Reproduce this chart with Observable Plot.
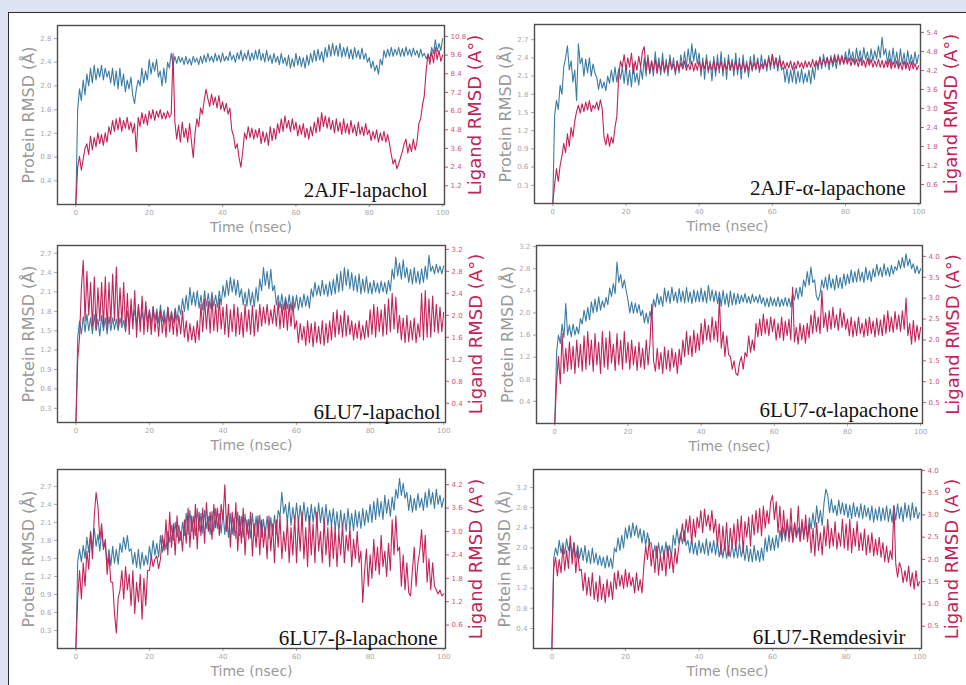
<!DOCTYPE html>
<html><head><meta charset="utf-8">
<script src="https://cdn.jsdelivr.net/npm/d3@7"></script>
<script src="https://cdn.jsdelivr.net/npm/@observablehq/plot@0.6"></script>
<style>
html,body{margin:0;padding:0;background:#dde3f0;}
#root{position:relative;width:966px;height:685px;overflow:hidden;background:#dde3f0;}
#sheet{position:absolute;left:8px;top:12px;width:960px;height:680px;background:#fff;border-left:1.5px solid #2b2b2b;border-top:1.5px solid #2b2b2b;}
</style></head>
<body><div id="root"><div id="sheet"></div></div>
<script>
const time = d3.range(0, 100.5, 0.5);
const xTicks = [0, 20, 40, 60, 80, 100];
const titles = ["2AJF-lapachol", "2AJF-α-lapachone", "6LU7-lapachol", "6LU7-α-lapachone", "6LU7-β-lapachone", "6LU7-Remdesivir"];

const proteinTicks1 = [0.4, 0.8, 1.2, 1.6, 2.0, 2.4, 2.8];
const ligandTicks1 = [1.2, 2.4, 3.6, 4.8, 6.0, 7.2, 8.4, 9.6, 10.8];
const proteinTicks2 = [0.3, 0.6, 0.9, 1.2, 1.5, 1.8, 2.1, 2.4, 2.7];
const ligandTicks2 = [0.6, 1.2, 1.8, 2.4, 3.0, 3.6, 4.2, 4.8, 5.4];
const proteinTicks3 = [0.3, 0.6, 0.9, 1.2, 1.5, 1.8, 2.1, 2.4, 2.7];
const ligandTicks3 = [0.4, 0.8, 1.2, 1.6, 2.0, 2.4, 2.8, 3.2];
const proteinTicks4 = [0.4, 0.8, 1.2, 1.6, 2.0, 2.4, 2.8, 3.2];
const ligandTicks4 = [0.5, 1.0, 1.5, 2.0, 2.5, 3.0, 3.5, 4.0];
const proteinTicks5 = [0.3, 0.6, 0.9, 1.2, 1.5, 1.8, 2.1, 2.4, 2.7];
const ligandTicks5 = [0.6, 1.2, 1.8, 2.4, 3.0, 3.6, 4.2];
const proteinTicks6 = [0.4, 0.8, 1.2, 1.6, 2.0, 2.4, 2.8, 3.2];
const ligandTicks6 = [0.5, 1.0, 1.5, 2.0, 2.5, 3.0, 3.5, 4.0];

const protein1 = [
0,1.6,1.95,1.75,2.1,1.85,2.2,2.0,2.3,2.05,2.35,2.1,2.3,2.15,2.35,2.1,2.3,2.15,2.25,2.05,
2.3,2.0,2.25,1.95,2.3,2.0,2.2,1.9,2.1,1.95,2.15,1.85,1.7,1.95,2.1,2.0,2.3,2.05,2.25,2.1,
2.45,2.2,2.4,2.25,2.45,2.15,2.25,2.0,2.3,2.05,2.4,2.3,2.55,2.35,2.5,2.38,2.5,2.4,2.48,2.36,
2.5,2.37,2.46,2.35,2.5,2.4,2.47,2.36,2.5,2.38,2.52,2.4,2.55,2.42,2.5,2.4,2.55,2.42,2.52,2.4,
2.56,2.42,2.5,2.43,2.58,2.44,2.52,2.4,2.56,2.45,2.6,2.42,2.55,2.45,2.6,2.42,2.56,2.44,2.6,2.45,
2.62,2.43,2.55,2.4,2.6,2.42,2.52,2.38,2.55,2.4,2.5,2.36,2.55,2.38,2.48,2.34,2.52,2.3,2.46,2.32,
2.55,2.35,2.5,2.33,2.48,2.3,2.52,2.35,2.55,2.4,2.6,2.42,2.62,2.44,2.58,2.4,2.65,2.48,2.7,2.5,
2.72,2.52,2.68,2.5,2.72,2.48,2.65,2.5,2.66,2.46,2.62,2.45,2.65,2.48,2.6,2.45,2.64,2.45,2.55,2.4,
2.48,2.3,2.42,2.25,2.35,2.2,2.45,2.35,2.6,2.48,2.62,2.5,2.65,2.5,2.62,2.52,2.65,2.5,2.63,2.5,
2.66,2.52,2.62,2.5,2.64,2.52,2.6,2.48,2.62,2.5,2.55,2.46,2.52,2.45,2.65,2.55,2.78,2.58,2.72,2.6,
2.8];
const ligand1 = [
0,2.4,3.1,2.2,2.9,3.6,3.9,3.2,4.4,3.5,4.3,3.7,4.6,3.9,4.5,3.8,4.6,4.0,5.0,4.5,
5.4,4.7,5.5,4.8,5.6,4.7,5.4,4.9,5.6,4.8,5.3,4.6,5.2,3.4,5.6,5.0,5.9,5.2,5.8,5.1,
6.0,5.5,6.1,5.4,6.0,5.6,6.1,5.5,5.9,5.5,6.0,5.6,5.8,9.7,5.3,4.2,5.1,4.0,5.3,4.3,
4.9,4.0,5.2,4.1,3.0,4.6,5.5,5.0,6.2,5.8,6.7,7.4,6.8,6.3,7.1,6.4,6.9,6.2,7.0,6.1,
6.6,6.0,6.5,5.8,6.2,4.8,4.4,3.6,3.9,3.0,2.4,3.4,4.6,4.2,5.0,4.3,4.9,4.2,4.8,4.3,
4.9,3.9,4.7,4.0,4.6,3.8,5.0,4.1,4.9,4.2,5.2,4.6,5.5,4.7,5.7,4.9,5.4,4.7,5.5,4.8,
5.3,4.4,5.1,4.5,5.2,4.3,4.9,4.2,5.0,4.4,5.3,4.6,5.6,4.7,5.9,5.0,5.7,4.9,5.6,4.8,
5.4,4.6,5.5,4.7,5.3,4.5,5.5,4.6,5.2,4.5,5.4,4.6,5.1,4.4,5.3,4.5,5.0,4.4,5.2,4.5,
4.8,4.1,4.7,4.2,4.8,4.0,4.6,4.1,4.7,4.0,4.5,3.9,3.2,2.6,2.9,2.3,2.6,3.0,3.4,3.9,
4.2,3.3,3.9,3.4,4.2,3.5,4.0,5.2,5.5,6.4,7.0,8.6,9.7,9.0,9.8,9.1,10.1,9.3,9.9,9.2,
9.6];

const protein2 = [
0,1.45,1.7,1.55,1.95,1.8,2.25,2.4,2.6,2.2,2.35,2.0,2.2,1.7,2.63,2.3,2.4,2.1,2.38,2.15,
2.4,2.1,2.3,2.15,2.08,1.88,2.05,1.9,2.0,1.86,2.1,1.98,2.2,2.0,2.25,2.0,2.22,2.05,2.25,1.98,
2.28,1.95,2.2,1.92,2.3,2.0,2.15,1.95,2.25,2.05,2.4,2.1,2.45,2.15,2.35,2.1,2.5,2.2,2.4,2.12,
2.48,2.15,2.38,2.1,2.45,2.2,2.4,2.12,2.35,2.15,2.45,2.22,2.5,2.25,2.55,2.3,2.63,2.35,2.55,2.3,
2.48,2.1,2.4,2.05,2.45,2.15,2.35,2.02,2.42,2.1,2.45,2.15,2.5,2.1,2.4,2.05,2.45,2.2,2.38,2.1,
2.48,2.12,2.4,2.05,2.45,2.15,2.35,2.08,2.42,2.18,2.46,2.2,2.4,2.16,2.45,2.22,2.38,2.18,2.44,2.2,
2.46,2.22,2.4,2.18,2.44,2.2,2.25,2.0,2.22,1.98,2.2,2.0,2.25,1.97,2.18,2.0,2.22,1.98,2.15,2.0,
2.2,1.97,2.25,2.05,2.35,2.2,2.42,2.22,2.46,2.25,2.4,2.2,2.44,2.25,2.4,2.22,2.46,2.28,2.42,2.3,
2.5,2.32,2.55,2.35,2.5,2.3,2.56,2.35,2.52,2.32,2.57,2.38,2.5,2.3,2.55,2.35,2.52,2.38,2.6,2.4,
2.74,2.45,2.55,2.3,2.52,2.28,2.56,2.3,2.5,2.26,2.55,2.3,2.48,2.25,2.52,2.3,2.45,2.28,2.5,2.3,
2.45];
const ligand2 = [
0,0.6,1.1,0.7,1.2,1.5,1.9,1.6,2.2,1.8,2.4,2.1,2.6,2.9,3.1,2.85,3.15,2.9,3.2,2.95,
3.25,2.9,3.1,3.0,3.2,2.95,3.27,3.0,2.1,1.85,2.2,1.8,2.1,1.9,2.4,2.75,4.0,4.5,4.3,4.7,
4.2,4.6,4.3,4.75,4.1,4.5,4.2,4.65,4.3,4.8,4.95,4.2,4.6,4.1,4.5,4.2,4.55,4.1,4.45,4.2,
4.5,4.15,4.4,4.2,4.55,4.25,4.4,4.15,4.5,4.2,4.45,4.25,4.5,4.2,4.4,4.22,4.5,4.18,4.42,4.2,
4.5,4.2,4.45,4.25,4.55,4.2,4.4,4.22,4.5,4.18,4.45,4.25,4.5,4.2,4.42,4.24,4.52,4.2,4.45,4.22,
4.5,4.2,4.42,4.22,4.48,4.18,4.4,4.2,4.5,4.22,4.45,4.25,4.5,4.2,4.4,4.25,4.5,4.3,4.6,4.35,
4.7,4.35,4.6,4.3,4.55,4.3,4.5,4.25,4.45,4.28,4.5,4.22,4.46,4.25,4.5,4.3,4.45,4.26,4.5,4.3,
4.48,4.3,4.55,4.32,4.5,4.35,4.6,4.35,4.55,4.4,4.62,4.38,4.6,4.42,4.7,4.45,4.65,4.42,4.68,4.4,
4.62,4.4,4.6,4.35,4.58,4.38,4.55,4.32,4.6,4.35,4.52,4.3,4.58,4.35,4.55,4.3,4.5,4.32,4.55,4.3,
4.52,4.28,4.5,4.3,4.55,4.25,4.48,4.28,4.5,4.25,4.45,4.22,4.5,4.25,4.45,4.2,4.48,4.25,4.42,4.22,
4.35];

const protein3 = [
0,1.4,1.65,1.45,1.72,1.48,1.76,1.5,1.7,1.45,1.75,1.5,1.68,1.42,1.74,1.5,1.7,1.45,1.72,1.5,
1.7,1.52,1.68,1.5,1.7,1.55,1.66,1.5,1.8,1.62,1.86,1.65,1.82,1.6,1.87,1.65,1.8,1.62,1.88,1.65,
1.82,1.6,1.88,1.66,1.84,1.62,1.9,1.65,1.82,1.6,1.86,1.64,1.8,1.62,1.85,1.66,1.9,1.75,2.0,1.8,
2.05,1.82,2.17,1.9,2.1,1.88,2.12,1.85,2.05,1.82,2.12,1.88,2.08,1.84,2.1,1.88,2.05,1.86,2.12,1.9,
2.2,2.02,2.28,2.05,2.33,2.1,2.3,2.05,2.28,2.02,2.15,1.9,2.1,1.88,2.15,1.9,2.1,1.87,2.17,1.95,
2.3,2.12,2.48,2.2,2.42,2.15,2.45,2.12,2.2,1.9,2.05,1.85,2.07,1.82,2.02,1.84,2.06,1.82,2.04,1.85,
2.05,1.82,2.02,1.86,2.07,1.88,2.04,1.85,2.15,2.02,2.25,2.05,2.2,2.04,2.28,2.06,2.22,2.03,2.26,2.05,
2.3,2.07,2.38,2.1,2.42,2.12,2.48,2.2,2.45,2.15,2.4,2.12,2.35,2.1,2.38,2.07,2.3,2.1,2.34,2.08,
2.25,2.07,2.28,2.1,2.24,2.08,2.27,2.1,2.25,2.07,2.28,2.12,2.45,2.3,2.64,2.35,2.55,2.3,2.6,2.32,
2.48,2.25,2.45,2.22,2.48,2.24,2.42,2.22,2.46,2.25,2.5,2.3,2.67,2.42,2.5,2.38,2.53,2.4,2.5,2.38,
2.5];
const ligand3 = [
0,1.2,1.6,2.5,3.0,1.9,2.8,2.0,2.6,1.8,2.7,1.75,2.5,1.9,2.6,1.8,2.7,1.75,2.6,1.85,
2.75,1.9,2.88,1.8,2.5,1.85,2.6,1.7,2.4,1.65,2.3,1.75,2.45,1.6,2.2,1.7,2.35,1.65,2.25,1.7,
2.1,1.65,2.15,1.7,2.05,1.62,2.1,1.68,2.0,1.6,2.15,1.7,2.05,1.65,2.1,1.62,2.0,1.66,2.08,1.6,
1.9,1.52,1.85,1.55,1.8,1.5,1.9,1.55,2.2,1.7,2.3,1.75,2.25,1.68,2.33,1.72,2.2,1.7,2.3,1.75,
2.15,1.65,2.2,1.6,2.1,1.7,2.2,1.62,2.15,1.65,2.05,1.6,2.2,1.7,2.1,1.65,2.18,1.62,2.1,1.7,
2.2,1.8,2.15,1.85,2.2,1.82,2.1,1.85,2.18,1.8,2.25,1.75,2.2,1.78,2.28,1.73,2.2,1.8,2.25,1.75,
1.9,1.5,1.85,1.55,1.8,1.45,1.9,1.5,1.85,1.43,1.88,1.5,1.8,1.48,1.9,1.45,1.85,1.5,1.9,1.55,
2.05,1.6,2.1,1.65,2.0,1.6,2.08,1.62,2.0,1.65,1.9,1.55,1.85,1.58,1.9,1.55,1.82,1.57,1.9,1.6,
2.1,1.65,2.2,1.6,2.15,1.7,2.1,1.62,2.2,1.65,2.3,1.7,2.4,1.75,2.33,1.68,2.0,1.55,1.95,1.5,
2.0,1.52,1.9,1.55,1.95,1.5,1.85,1.6,2.4,1.55,2.45,1.6,2.3,1.6,2.35,1.7,2.2,1.68,2.15,1.7,
2.05];

const protein4 = [
0,1.3,1.6,1.45,1.8,1.55,2.17,1.6,1.78,1.57,1.8,1.6,1.75,1.62,1.9,1.8,2.05,1.85,2.1,1.88,
2.2,2.0,2.25,2.02,2.29,2.05,2.22,2.1,2.28,2.15,2.45,2.3,2.53,2.35,2.92,2.55,2.7,2.45,2.6,2.41,
2.23,2.0,2.2,1.99,2.18,2.0,2.15,1.95,2.05,1.82,2.0,1.81,2.03,1.9,2.25,2.11,2.35,2.15,2.3,2.12,
2.45,2.2,2.4,2.17,2.47,2.22,2.38,2.18,2.44,2.2,2.4,2.18,2.46,2.2,2.38,2.17,2.42,2.2,2.4,2.2,
2.45,2.2,2.4,2.18,2.5,2.22,2.42,2.2,2.4,2.17,2.38,2.12,2.41,2.15,2.35,2.11,2.4,2.14,2.36,2.15,
2.35,2.17,2.32,2.2,2.35,2.18,2.3,2.17,2.34,2.2,2.3,2.18,2.33,2.17,2.28,2.12,2.27,2.11,2.29,2.13,
2.26,2.12,2.29,2.11,2.25,2.13,2.28,2.12,2.27,2.11,2.35,2.23,2.45,2.25,2.47,2.3,2.6,2.47,2.75,2.5,
2.83,2.55,2.6,2.3,2.23,2.35,2.6,2.45,2.65,2.42,2.7,2.45,2.62,2.41,2.68,2.45,2.64,2.44,2.71,2.5,
2.7,2.53,2.78,2.55,2.75,2.56,2.8,2.58,2.74,2.55,2.83,2.6,2.76,2.57,2.8,2.65,2.88,2.68,2.82,2.65,
2.89,2.68,2.82,2.66,2.86,2.7,2.84,2.77,2.95,2.8,3.0,2.82,3.07,2.85,2.98,2.8,2.89,2.72,2.85,2.71,
2.8];
const ligand4 = [
0,1.0,1.6,0.95,2.15,1.2,1.8,1.25,1.95,1.3,1.85,1.2,2.0,1.35,1.9,1.25,2.1,1.3,2.2,1.4,
2.0,1.25,2.15,1.4,1.95,1.2,2.2,1.35,2.05,1.3,2.2,1.45,1.9,1.27,2.15,1.4,2.0,1.3,2.2,1.45,
1.95,1.3,2.0,1.4,1.85,1.27,1.95,1.35,1.8,1.3,2.0,1.4,1.9,2.86,1.5,1.25,1.8,1.3,1.7,1.2,
1.83,1.3,1.75,1.25,1.8,1.35,1.7,1.2,1.78,1.4,2.0,1.6,2.2,1.65,2.1,1.6,2.23,1.7,2.15,1.75,
2.4,1.9,2.5,2.0,2.35,1.95,2.55,2.0,2.45,1.95,3.0,1.8,2.2,1.6,2.1,1.65,1.6,1.3,1.5,1.2,
1.15,1.45,1.6,1.3,1.7,1.6,2.1,1.7,2.0,1.75,2.4,2.07,2.5,2.1,2.62,2.15,2.5,2.1,2.55,2.2,
2.5,2.0,2.4,2.05,2.55,1.99,2.45,2.1,2.5,2.0,3.26,1.95,2.3,1.9,2.4,2.0,2.35,1.92,2.4,2.05,
2.6,2.15,2.7,2.2,2.55,2.15,3.18,2.3,2.65,2.2,2.7,2.25,2.78,2.3,2.6,2.23,2.75,2.3,2.65,2.25,
2.5,2.1,2.55,2.07,2.45,2.1,2.55,2.15,2.4,2.07,2.5,2.1,2.55,2.15,2.45,2.07,2.52,2.12,2.48,2.1,
2.6,2.15,2.7,2.2,2.55,2.18,2.68,2.25,2.6,2.2,2.7,2.25,3.0,2.1,2.4,1.9,2.47,1.95,2.35,2.0,
2.3];

const protein5 = [
0,1.45,1.65,1.44,1.72,1.5,1.85,1.6,1.95,1.65,2.0,1.7,1.9,1.62,1.95,1.68,1.72,1.4,1.65,1.38,
1.7,1.42,1.65,1.4,1.75,1.6,1.85,1.65,1.88,1.62,1.66,1.4,1.6,1.35,1.65,1.33,1.6,1.38,1.55,1.4,
1.7,1.49,1.8,1.55,1.75,1.52,1.88,1.6,1.82,1.65,1.95,1.77,2.05,1.8,2.1,1.85,2.05,1.8,2.1,1.88,
2.25,1.9,2.3,1.95,2.2,1.88,2.33,1.95,2.25,1.92,2.3,2.0,2.2,1.9,2.28,1.95,2.33,2.0,2.25,1.92,
2.27,1.9,2.2,1.85,2.25,1.9,2.18,1.83,2.27,1.88,2.2,1.85,2.24,1.9,2.15,1.84,2.25,1.88,2.2,1.86,
2.22,1.85,2.15,1.9,2.2,1.83,2.18,1.88,2.22,1.9,2.3,2.2,2.6,2.25,2.4,2.1,2.44,2.05,2.35,2.1,
2.42,2.08,2.38,2.1,2.44,2.12,2.35,2.05,2.4,2.1,2.36,2.08,2.42,2.1,2.35,2.06,2.4,2.05,2.3,2.05,
2.33,1.98,2.28,1.94,2.3,2.0,2.25,1.95,2.33,2.0,2.25,1.96,2.3,2.02,2.28,2.0,2.33,2.05,2.3,2.1,
2.4,2.1,2.45,2.15,2.5,2.2,2.45,2.15,2.55,2.25,2.48,2.2,2.52,2.3,2.65,2.5,2.83,2.55,2.75,2.5,
2.6,2.3,2.55,2.27,2.5,2.3,2.58,2.35,2.5,2.3,2.6,2.35,2.66,2.4,2.6,2.33,2.65,2.4,2.55,2.35,
2.5];
const ligand5 = [
0,1.3,2.0,1.27,2.2,1.6,2.5,2.03,2.97,2.3,3.4,4.0,3.65,2.8,3.2,2.54,2.8,1.9,2.4,1.7,
1.7,0.9,0.4,1.3,1.5,2.0,1.27,2.1,1.5,1.9,1.1,2.0,0.9,1.7,1.2,1.9,0.75,1.8,1.1,2.0,
2.0,2.37,2.1,2.3,2.37,2.05,2.3,2.9,2.5,3.3,2.4,3.5,2.6,3.2,2.4,3.4,2.7,3.0,2.5,3.3,
2.7,3.6,2.6,3.4,2.8,3.7,2.55,3.5,2.9,3.6,2.7,3.74,3.0,3.5,2.8,3.7,3.1,3.6,2.9,3.7,
3.3,4.2,3.0,3.7,2.6,3.5,2.9,3.74,2.5,3.4,2.7,3.6,2.4,3.3,2.8,3.5,2.37,3.2,2.6,3.4,
2.4,3.3,2.6,3.1,2.3,3.4,2.5,3.2,2.2,3.3,2.6,3.4,2.3,3.0,2.5,3.3,2.2,3.1,2.4,3.4,
2.2,3.3,2.5,3.5,2.3,3.1,2.1,3.4,2.4,3.2,2.2,3.5,2.5,3.0,2.2,3.3,2.4,3.1,2.1,3.2,
2.3,3.1,2.1,3.0,2.4,3.2,2.2,2.9,2.5,3.1,2.1,2.8,2.3,3.0,2.2,2.5,1.18,2.0,2.55,1.6,
2.4,1.8,2.8,2.0,2.6,1.9,2.9,2.1,2.5,1.85,2.7,2.0,3.3,2.4,3.4,2.5,2.6,1.6,2.4,1.5,
2.2,1.43,1.35,2.0,2.6,1.6,2.2,2.5,3.05,2.2,2.9,1.7,2.3,1.5,2.2,1.6,1.5,1.4,1.5,1.35,
1.4];

const protein6 = [
0,1.8,2.0,1.85,2.15,1.9,2.1,1.88,2.18,1.95,2.12,1.85,2.1,1.8,2.05,1.79,2.0,1.75,2.05,1.7,
1.95,1.68,2.0,1.7,1.9,1.66,1.85,1.65,1.82,1.6,1.85,1.62,1.8,1.59,2.0,1.92,2.2,1.95,2.25,2.0,
2.4,2.18,2.45,2.2,2.5,2.25,2.45,2.2,2.38,2.1,2.35,2.05,2.3,2.1,2.1,1.85,2.05,1.8,2.1,1.85,
2.05,1.79,2.12,1.85,2.05,1.82,2.25,2.05,2.38,2.1,2.3,2.08,2.35,2.05,2.15,1.9,2.18,1.88,2.1,1.85,
2.15,1.9,2.1,1.88,2.18,1.85,2.12,1.9,2.15,1.86,2.12,1.82,2.05,1.8,2.1,1.79,2.0,1.82,2.08,1.8,
2.05,1.8,2.1,1.82,2.0,1.75,2.05,1.73,1.98,1.72,2.05,1.75,1.95,1.72,2.0,1.75,2.2,1.92,2.25,1.95,
2.2,1.95,2.25,2.0,2.35,2.12,2.4,2.15,2.5,2.2,2.45,2.15,2.51,2.2,2.4,2.15,2.5,2.25,2.45,2.2,
2.6,2.38,2.7,2.4,2.84,2.5,2.75,2.45,2.9,3.17,3.05,2.7,2.97,2.7,2.85,2.64,2.95,2.68,2.9,2.65,
2.88,2.6,2.85,2.58,2.9,2.62,2.82,2.6,2.88,2.58,2.85,2.62,2.8,2.55,2.84,2.51,2.78,2.55,2.82,2.53,
2.8,2.55,2.84,2.52,2.78,2.51,2.85,2.55,2.88,2.58,2.82,2.52,2.9,2.6,2.85,2.55,2.9,2.6,2.82,2.58,
2.7];
const ligand6 = [
0,1.8,2.05,1.63,2.0,1.7,2.3,1.75,2.2,1.8,2.53,1.9,2.38,1.7,2.2,1.75,1.78,1.3,1.7,1.2,
1.6,1.18,1.7,1.1,1.5,1.05,1.63,1.1,1.45,1.03,1.55,1.15,1.5,1.1,1.7,1.33,1.75,1.4,1.65,1.35,
1.78,1.38,1.7,1.4,1.6,1.25,1.7,1.3,1.55,1.25,1.85,2.3,2.0,2.46,1.85,2.2,1.7,2.3,1.65,2.1,
1.75,2.2,1.63,2.3,1.8,2.15,1.7,2.25,1.9,2.3,2.5,2.8,2.4,2.9,2.6,2.98,2.35,2.9,2.5,2.95,
2.7,3.1,2.6,3.13,2.75,3.0,2.65,3.1,2.6,2.9,2.3,2.8,2.1,2.75,2.2,2.83,2.08,2.7,2.3,2.8,
2.2,2.9,2.4,2.98,2.15,2.85,2.5,2.95,2.3,3.0,2.55,3.1,2.6,3.15,2.53,3.2,2.7,3.1,2.8,3.3,
3.44,2.9,3.3,2.6,3.2,2.45,3.1,2.5,2.9,2.4,3.15,2.38,2.8,2.5,3.2,2.4,2.9,2.45,3.0,2.4,
2.8,2.15,2.7,2.08,2.83,2.2,2.6,2.1,2.75,2.3,2.9,2.25,2.7,2.3,2.85,2.23,2.6,2.3,2.9,2.25,
2.8,2.2,2.9,2.15,2.7,2.3,2.85,2.2,2.6,2.2,2.68,2.1,2.55,2.15,2.6,2.08,2.45,2.1,2.5,2.05,
2.38,1.95,2.3,1.93,2.2,2.0,3.2,1.9,1.6,1.93,1.8,1.48,1.75,1.5,1.85,1.4,1.7,1.33,1.75,1.4,
1.5];

// ---------- layout / style ----------
const BLUE = "#3b7ca4", RED = "#c2245a";
const panels = [
  {protein: protein1, ligand: ligand1, pT: proteinTicks1, lT: ligandTicks1, pD: [0, 3.02], lD: [0, 11.5], box: [57, 25, 444, 204], tdx: -17, tdy: -14},
  {protein: protein2, ligand: ligand2, pT: proteinTicks2, lT: ligandTicks2, pD: [0, 2.95], lD: [0, 5.65], box: [534, 24, 920, 203], tdx: -15, tdy: -15},
  {protein: protein3, ligand: ligand3, pT: proteinTicks3, lT: ligandTicks3, pD: [0.08, 2.82], lD: [0.05, 3.27], box: [57, 245, 445, 422], tdx: -5, tdy: -10},
  {protein: protein4, ligand: ligand4, pT: proteinTicks4, lT: ligandTicks4, pD: [0, 3.22], lD: [0, 4.26], box: [536, 245, 922, 423], tdx: -4, tdy: -13},
  {protein: protein5, ligand: ligand5, pT: proteinTicks5, lT: ligandTicks5, pD: [0, 2.98], lD: [0, 4.59], box: [57, 469, 445, 648], tdx: -8, tdy: -10},
  {protein: protein6, ligand: ligand6, pT: proteinTicks6, lT: ligandTicks6, pD: [0, 3.56], lD: [0, 4.02], box: [533, 469, 921, 648], tdx: -16, tdy: -11}
];

const mL = 50, mR = 50, mT = 10, mB = 42;
const root = document.getElementById("root");
const fmt = d => d.toFixed(1);

panels.forEach((p, k) => {
  const [l, t, r, b] = p.box;
  const common = {
    width: r - l + mL + mR, height: b - t + mT + mB,
    marginLeft: mL, marginRight: mR, marginTop: mT, marginBottom: mB,
    style: "background:transparent;overflow:visible;font-family:'DejaVu Sans',sans-serif;max-width:none;"
  };
  const back = Plot.plot({
    ...common,
    x: {domain: [-5, 100.5]},
    y: {domain: p.pD},
    marks: [
      Plot.axisX(xTicks, {tickSize: 3, tickPadding: 3, fontSize: 7, color: "#a8a8a8", label: null, tickFormat: d => String(d)}),
      Plot.axisY(p.pT, {tickSize: 3, tickPadding: 3, fontSize: 7, color: "#a8a8a8", label: null, tickFormat: fmt}),
      Plot.line(p.protein, {x: (d, i) => time[i], y: d => d, stroke: BLUE, strokeWidth: 1.1, clip: true}),
      Plot.text(["Time (nsec)"], {text: d => d, frameAnchor: "bottom", lineAnchor: "middle", textAnchor: "middle", dy: 23, fontSize: 14, fill: "#9a9a9a"}),
      Plot.text(["Protein RMSD (Å)"], {text: d => d, frameAnchor: "left", textAnchor: "middle", lineAnchor: "middle", rotate: -90, dx: -29, fontSize: 16, fill: "#9a9a9a"})
    ]
  });
  const front = Plot.plot({
    ...common,
    x: {domain: [-5, 100.5], axis: null},
    y: {domain: p.lD},
    marks: [
      Plot.axisY(p.lT, {anchor: "right", tickSize: 3, tickPadding: 3, fontSize: 7, color: "#c9567d", label: null, tickFormat: fmt}),
      Plot.line(p.ligand, {x: (d, i) => time[i], y: d => d, stroke: RED, strokeWidth: 1.1, clip: true}),
      Plot.frame({stroke: "#4d4d4d", strokeWidth: 1.4}),
      Plot.text([titles[k]], {text: d => d, frameAnchor: "bottom-right", textAnchor: "end", lineAnchor: "middle", dx: p.tdx, dy: p.tdy, fontSize: 21, fontFamily: "'Liberation Serif', serif", fill: "#111"}),
      Plot.text(["Ligand RMSD (A°)"], {text: d => d, frameAnchor: "right", textAnchor: "middle", lineAnchor: "middle", rotate: -90, dx: 31, fontSize: 18, fill: RED})
    ]
  });
  [back, front].forEach(svg => {
    svg.style.position = "absolute";
    svg.style.left = (l - mL) + "px";
    svg.style.top = (t - mT) + "px";
    root.appendChild(svg);
  });
});
</script></body></html>
